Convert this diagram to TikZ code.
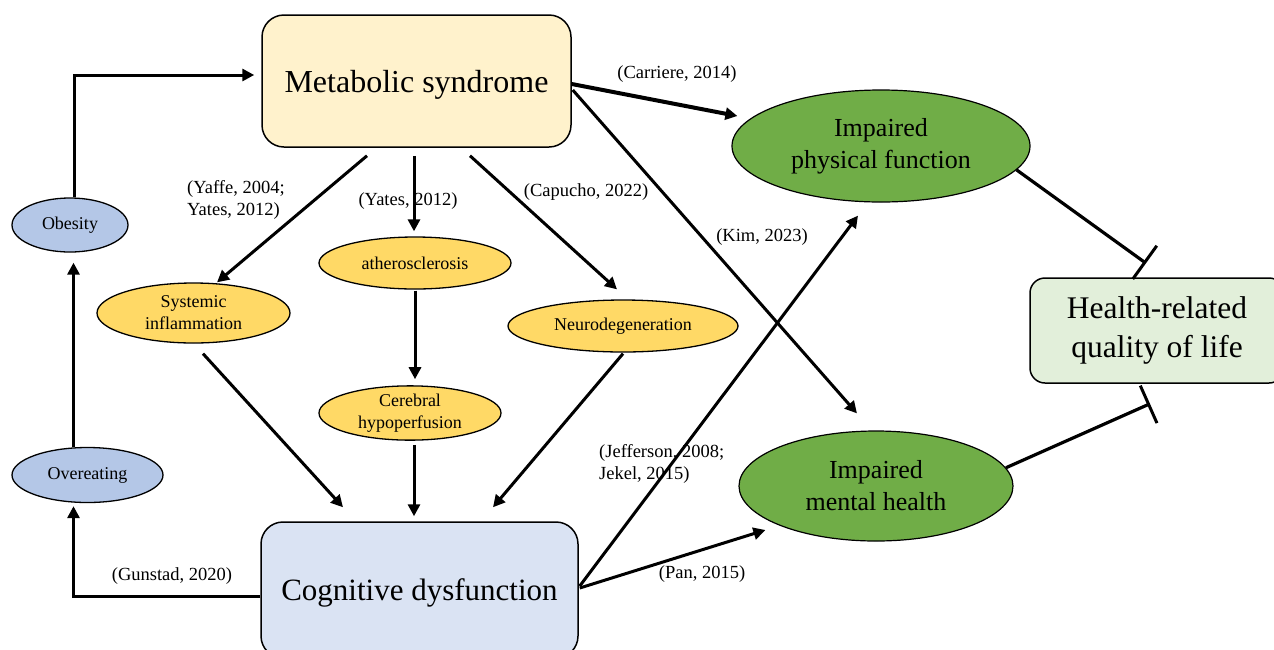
\documentclass[tikz,border=0pt]{standalone}
\usepackage{fontspec}
\setmainfont{Liberation Serif}
\usetikzlibrary{arrows.meta,shapes.geometric,calc}
\definecolor{msfill}{HTML}{FFF2CC}
\definecolor{cdfill}{HTML}{DAE3F3}
\definecolor{hqfill}{HTML}{E2EFDA}
\definecolor{bluefill}{HTML}{B4C7E7}
\definecolor{yelfill}{HTML}{FFD966}
\definecolor{grnfill}{HTML}{70AD47}
\tikzset{
  bigbox/.style={draw=black, line width=1.5pt, rounded corners=22pt, inner sep=0pt, align=center, font=\fontsize{31.5}{39}\selectfont},
  oval/.style={ellipse, draw=black, line width=1.3pt, inner sep=0pt, align=center, font=\fontsize{18}{22}\selectfont},
  goval/.style={ellipse, draw=black, line width=1.2pt, fill=grnfill, inner sep=0pt, align=center, font=\fontsize{26}{32}\selectfont},
  cite/.style={inner sep=0pt, align=left, font=\fontsize{18.5}{22}\selectfont},
  arr/.style={line width=3pt, -{Triangle[length=12pt,width=12pt]}},
  inhib/.style={line width=3.2pt, -{Bar[width=41pt,line width=3pt]}},
}
\begin{document}
\begin{tikzpicture}[x=1pt,y=-1pt]
\useasboundingbox (0,0) rectangle (1274,649);
% boxes
\node[bigbox, fill=msfill, minimum width=309pt, minimum height=132pt, text depth=0pt] (ms) at (416.5,81) {\fontsize{32}{38}\selectfont Metabolic syndrome};
\node[bigbox, fill=cdfill, minimum width=317pt, minimum height=136pt, text depth=0pt] (cd) at (419.5,590) {\fontsize{31}{38}\selectfont Cognitive dysfunction};
\node[bigbox, fill=hqfill, rounded corners=15pt, minimum width=254pt, minimum height=105pt] (hq) at (1157,330.5) {Health-related\\quality of life};
% ellipses
\node[oval, fill=bluefill, minimum width=116pt, minimum height=54pt] (ob) at (70,225) {Obesity};
\node[oval, fill=bluefill, minimum width=151pt, minimum height=55pt] (ov) at (87.5,475) {Overeating};
\node[oval, fill=yelfill, minimum width=193pt, minimum height=60pt] (si) at (193.5,313) {Systemic\\inflammation};
\node[oval, fill=yelfill, minimum width=192pt, minimum height=52pt] (at) at (415,263) {atherosclerosis};
\node[oval, fill=yelfill, minimum width=182pt, minimum height=54pt] (ch) at (410,413) {Cerebral\\hypoperfusion};
\node[oval, fill=yelfill, minimum width=230pt, minimum height=52pt] (nd) at (623,326) {Neurodegeneration};
\node[goval, minimum width=298pt, minimum height=112pt] (pf) at (881,146) {Impaired\\physical function};
\node[goval, minimum width=274pt, minimum height=110pt] (mh) at (876,486) {Impaired\\mental health};
% citations
\node[cite] (c1) at (677,74) {(Carriere, 2014)};
\node[cite, anchor=west] (c2) at (187,200) {(Yaffe, 2004;\\Yates, 2012)};
\node[cite] (c3) at (408,201) {(Yates, 2012)};
\node[cite] (c4) at (586,192) {(Capucho, 2022)};
\node[cite] (c5) at (762,237) {(Kim, 2023)};
\node[cite, anchor=west] (c6) at (599,464) {(Jefferson, 2008;\\Jekel, 2015)};
\node[cite] (c7) at (172,576) {(Gunstad, 2020)};
\node[cite] (c8) at (702,574) {(Pan, 2015)};
% feedback loop
\draw[arr] ($(ob.north)+(4,0)$) |- ($(ms.west)+(-7,-6)$);
\draw[arr] ($(ov.north)+(-14,0)$) -- ($(ob.south)+(3.5,10)$);
\draw[arr] ($(cd.west)+(0,6)$) -| ($(ov.south)+(-14,3)$);
% MetS to mechanisms
\draw[arr] ($(ms.south)+(-49.5,8)$) -- ($(si.north)+(23.5,0)$);
\draw[arr] ($(ms.south)+(-2.5,8)$) -- ($(at.north)+(-1,-5)$);
\draw[arr] ($(ms.south)+(53.5,8)$) -- ($(nd.north)+(-6,-10)$);
% mechanisms to cognitive dysfunction
\draw[arr] ($(si.south)+(9.5,10)$) -- ($(cd.north)+(-76.5,-14)$);
\draw[arr] ($(at.south)+(0,1)$) -- ($(ch.north)+(5,-6)$);
\draw[arr] ($(ch.south)+(4,4)$) -- ($(cd.north)+(-5.5,-5)$);
\draw[arr] ($(nd.south)+(0,1)$) -- ($(cd.north)+(73.5,-14)$);
% to outcomes
\draw[arr, line width=4pt] ($(ms.east)+(0,3)$) -- ($(pf.west)+(6,-30)$);
\draw[arr] ($(ms.east)+(1,9)$) -- ($(mh.north)+(-19,-17)$);
\draw[arr] ($(cd.east)+(1,-4)$) -- ($(pf.south)+(-23,13)$);
\draw[arr] ($(cd.east)+(1,-2)$) -- ($(mh.west)+(27,44)$);
% inhibition to HRQoL
\draw[inhib] (pf.-10) -- ($(hq.north)+(-11,-14)$);
\draw[inhib] (mh.8) -- ($(hq.south)+(-7,20)$);
\end{tikzpicture}
\end{document}
